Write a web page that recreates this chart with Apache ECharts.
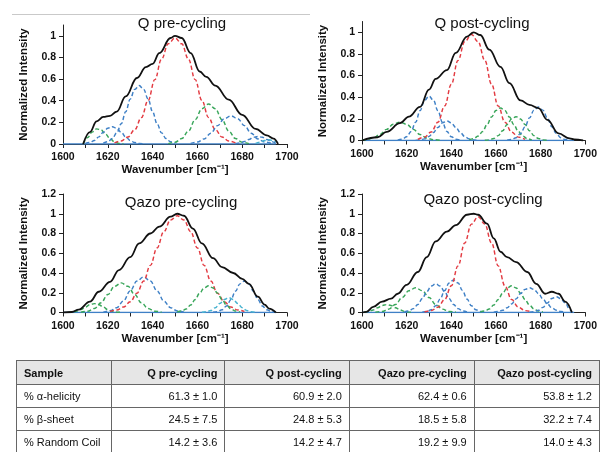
<!DOCTYPE html>
<html>
<head>
<meta charset="utf-8">
<script src="https://cdn.jsdelivr.net/npm/echarts@6/dist/echarts.min.js"></script>
<style>
  html, body { margin: 0; padding: 0; background: #fff; overflow: hidden; width: 600px; height: 452px; }
  #main { position: absolute; left: 0; top: 0; width: 600px; height: 452px; }
  table { position: absolute; left: 16px; top: 360px; border-collapse: collapse; table-layout: fixed;
          font-family: "Liberation Sans", Arial, sans-serif; font-size: 11px; color: #111; }
  td, th { border: 1px solid #666; padding: 0 7px; white-space: nowrap; height: 22px; }
  th { background: #e6e6e6; font-weight: bold; height: 23px; }
  td.num, th.num { text-align: right; }
  td.lab, th.lab { text-align: left; }
</style>
</head>
<body>
<div id="main"></div>
<table id="tbl"></table>
<script>
// FTIR amide I deconvolution

// Q pre-cycling
const qPreTotal = [[1609,0],[1612,0.11],[1615,0.21],[1618,0.25],[1621,0.26],[1624,0.30],[1628,0.44],[1633,0.61],[1637,0.71],[1640,0.74],[1643,0.84],[1648,0.98],[1650,1.0],[1653,0.98],[1657,0.84],[1661,0.67],[1664,0.62],[1668,0.54],[1674,0.41],[1680,0.27],[1686,0.14],[1691,0.08],[1694,0.05],[1696,0]];
const qPreG1 = [[1609,0],[1611,0.06],[1613,0.11],[1615,0.14],[1617,0.13],[1619,0.09],[1621,0.05],[1623,0.02],[1625,0.006],[1627,0]];
const qPreB1 = [[1610,0.005],[1612,0.014],[1614,0.033],[1616,0.066],[1618,0.108],[1620,0.145],[1622,0.16],[1624,0.145],[1626,0.108],[1628,0.066],[1630,0.033],[1632,0.014],[1634,0.005],[1636,0]];
const qPreB2 = [[1618,0.008],[1620,0.021],[1622,0.05],[1624,0.103],[1626,0.187],[1628,0.298],[1630,0.415],[1632,0.505],[1634,0.54],[1636,0.505],[1638,0.415],[1640,0.298],[1642,0.187],[1644,0.103],[1646,0.05],[1648,0.021],[1650,0.008]];
const qPreR = [[1623,0.011],[1626,0.028],[1629,0.065],[1632,0.132],[1635,0.244],[1638,0.403],[1641,0.595],[1644,0.785],[1647,0.927],[1650,0.98],[1653,0.927],[1656,0.785],[1659,0.595],[1662,0.403],[1665,0.244],[1668,0.132],[1671,0.065],[1674,0.028],[1677,0.011]];
const qPreG2 = [[1647,0.004],[1650,0.016],[1653,0.05],[1656,0.12],[1659,0.225],[1662,0.326],[1665,0.37],[1668,0.326],[1671,0.225],[1674,0.12],[1677,0.05],[1680,0.016],[1683,0.004]];
const qPreB3 = [[1657,0.006],[1660,0.018],[1663,0.047],[1666,0.1],[1669,0.17],[1672,0.234],[1675,0.26],[1678,0.234],[1681,0.17],[1684,0.1],[1687,0.047],[1690,0.018],[1693,0.006]];
const qPreB4 = [[1677,0.003],[1679,0.009],[1681,0.023],[1683,0.042],[1685,0.062],[1687,0.07],[1689,0.062],[1691,0.042],[1693,0.023],[1695,0.005]];
const qPreC1 = [[1686,0.005],[1688,0.016],[1690,0.032],[1692,0.04],[1694,0.03],[1695,0.02]];

// Q post-cycling
const qPostTotal = [[1600,0],[1607,0.03],[1611,0.08],[1617,0.16],[1621,0.22],[1626,0.31],[1630,0.47],[1633,0.57],[1638,0.65],[1642,0.81],[1647,0.96],[1650,1.0],[1653,0.975],[1657,0.84],[1662,0.68],[1666,0.53],[1671,0.37],[1675,0.33],[1679,0.3],[1683,0.19],[1688,0.065],[1693,0.02],[1695,0.01],[1699,0]];
const qPostG1 = [[1600,0.003],[1602,0.007],[1605,0.023],[1608,0.055],[1611,0.103],[1614,0.15],[1617,0.17],[1620,0.15],[1623,0.103],[1626,0.055],[1629,0.023],[1632,0.007],[1635,0.002]];
const qPostB1 = [[1616,0.003],[1618,0.012],[1620,0.035],[1622,0.084],[1624,0.169],[1626,0.276],[1628,0.371],[1630,0.41],[1632,0.371],[1634,0.276],[1636,0.169],[1638,0.084],[1640,0.035],[1642,0.012],[1644,0.003]];
const qPostB2 = [[1624,0.001],[1626,0.005],[1628,0.015],[1630,0.037],[1632,0.074],[1634,0.121],[1636,0.163],[1638,0.18],[1640,0.163],[1642,0.121],[1644,0.074],[1646,0.037],[1648,0.015],[1650,0.005],[1652,0.001]];
const qPostR = [[1625,0.011],[1628,0.031],[1631,0.078],[1634,0.169],[1637,0.318],[1640,0.52],[1643,0.74],[1646,0.913],[1649,0.98],[1652,0.913],[1655,0.74],[1658,0.52],[1661,0.318],[1664,0.169],[1667,0.078],[1670,0.031],[1673,0.011]];
const qPostG2 = [[1648,0.006],[1650,0.017],[1652,0.041],[1654,0.083],[1656,0.146],[1658,0.218],[1660,0.277],[1662,0.3],[1664,0.277],[1666,0.218],[1668,0.146],[1670,0.083],[1672,0.041],[1674,0.017],[1676,0.006]];
const qPostG3 = [[1655,0.002],[1657,0.006],[1659,0.019],[1661,0.045],[1663,0.09],[1665,0.148],[1667,0.199],[1669,0.22],[1671,0.199],[1673,0.148],[1675,0.09],[1677,0.045],[1679,0.019],[1681,0.006],[1683,0.002]];
const qPostB3 = [[1665,0.002],[1667,0.009],[1669,0.026],[1671,0.064],[1673,0.127],[1675,0.209],[1677,0.281],[1679,0.31],[1681,0.281],[1683,0.209],[1685,0.127],[1687,0.064],[1689,0.026],[1691,0.009],[1693,0.002]];

// Qazo pre-cycling
const qazoPreTotal = [[1600,0],[1604,0.005],[1607,0.03],[1612,0.11],[1616,0.21],[1621,0.31],[1625,0.43],[1630,0.56],[1634,0.7],[1639,0.8],[1643,0.87],[1648,0.97],[1651,1.0],[1654,0.98],[1658,0.85],[1662,0.7],[1667,0.55],[1671,0.46],[1676,0.4],[1680,0.34],[1683,0.29],[1687,0.16],[1690,0.08],[1692,0.04],[1695,0]];
const qazoPreG1 = [[1602,0.001],[1604,0.004],[1606,0.012],[1608,0.029],[1610,0.055],[1612,0.079],[1614,0.09],[1616,0.079],[1618,0.055],[1620,0.029],[1622,0.012],[1624,0.004],[1626,0.001]];
const qazoPreG2 = [[1608,0.003],[1611,0.013],[1614,0.041],[1617,0.098],[1620,0.182],[1623,0.265],[1626,0.3],[1629,0.265],[1632,0.182],[1635,0.098],[1638,0.041],[1641,0.013],[1644,0.003]];
const qazoPreB1 = [[1618,0.004],[1621,0.016],[1624,0.049],[1627,0.117],[1630,0.219],[1633,0.318],[1636,0.36],[1639,0.318],[1642,0.219],[1645,0.117],[1648,0.049],[1651,0.016],[1654,0.004]];
const qazoPreR = [[1621,0.011],[1624,0.025],[1627,0.055],[1630,0.108],[1633,0.194],[1636,0.318],[1639,0.477],[1642,0.654],[1645,0.818],[1648,0.937],[1651,0.98],[1654,0.937],[1657,0.818],[1660,0.654],[1663,0.477],[1666,0.318],[1669,0.194],[1672,0.108],[1675,0.055],[1678,0.025],[1681,0.011]];
const qazoPreG3 = [[1651,0.005],[1653,0.015],[1655,0.036],[1657,0.075],[1659,0.131],[1661,0.196],[1663,0.249],[1665,0.27],[1667,0.249],[1669,0.196],[1671,0.131],[1673,0.075],[1675,0.036],[1677,0.015],[1679,0.005]];
const qazoPreC1 = [[1662,0.002],[1664,0.007],[1666,0.02],[1668,0.049],[1670,0.091],[1672,0.132],[1674,0.15],[1676,0.132],[1678,0.091],[1680,0.049],[1682,0.02],[1684,0.007],[1686,0.002]];
const qazoPreB2 = [[1667,0.003],[1669,0.009],[1671,0.027],[1673,0.066],[1675,0.132],[1677,0.216],[1679,0.29],[1681,0.32],[1683,0.29],[1685,0.216],[1687,0.132],[1689,0.066],[1691,0.027],[1693,0.009],[1695,0.003]];

// Qazo post-cycling
const qazoPostTotal = [[1600,0],[1602,0.007],[1605,0.057],[1609,0.11],[1613,0.14],[1616,0.19],[1620,0.28],[1625,0.41],[1629,0.56],[1633,0.72],[1638,0.82],[1642,0.885],[1647,0.99],[1650,1.0],[1652,0.99],[1656,0.9],[1659,0.75],[1662,0.615],[1665,0.56],[1669,0.51],[1674,0.41],[1678,0.29],[1682,0.19],[1685,0.21],[1688,0.19],[1691,0.11],[1694,0]];
const qazoPostG1 = [[1601,0.003],[1603,0.011],[1605,0.026],[1607,0.049],[1609,0.071],[1611,0.08],[1613,0.071],[1615,0.049],[1617,0.026],[1619,0.011],[1621,0.004],[1623,0.001]];
const qazoPostG2 = [[1606,0.003],[1609,0.011],[1612,0.034],[1615,0.081],[1618,0.152],[1621,0.221],[1624,0.25],[1627,0.221],[1630,0.152],[1633,0.081],[1636,0.034],[1639,0.011],[1642,0.003]];
const qazoPostB1 = [[1619,0.006],[1621,0.016],[1623,0.039],[1625,0.081],[1627,0.141],[1629,0.211],[1631,0.268],[1633,0.29],[1635,0.268],[1637,0.211],[1639,0.141],[1641,0.081],[1643,0.039],[1645,0.016],[1647,0.006]];
const qazoPostB2 = [[1627,0.003],[1629,0.01],[1631,0.028],[1633,0.068],[1635,0.136],[1637,0.222],[1639,0.299],[1641,0.33],[1643,0.299],[1645,0.222],[1647,0.136],[1649,0.068],[1651,0.028],[1653,0.01],[1655,0.003]];
const qazoPostR = [[1628,0.006],[1631,0.019],[1634,0.054],[1637,0.131],[1640,0.27],[1643,0.472],[1646,0.704],[1649,0.895],[1652,0.97],[1655,0.895],[1658,0.704],[1661,0.472],[1664,0.27],[1667,0.131],[1670,0.054],[1673,0.019],[1676,0.006]];
const qazoPostG3 = [[1653,0.005],[1655,0.015],[1657,0.036],[1659,0.075],[1661,0.131],[1663,0.196],[1665,0.249],[1667,0.27],[1669,0.249],[1671,0.196],[1673,0.131],[1675,0.075],[1677,0.036],[1679,0.015],[1681,0.005]];
const qazoPostB3 = [[1659,0.004],[1661,0.01],[1663,0.023],[1665,0.048],[1667,0.087],[1669,0.138],[1671,0.192],[1673,0.234],[1675,0.25],[1677,0.234],[1679,0.192],[1681,0.138],[1683,0.087],[1685,0.048],[1687,0.023],[1689,0.01],[1691,0.004]];
const qazoPostB4 = [[1675,0.002],[1677,0.007],[1679,0.022],[1681,0.052],[1683,0.097],[1685,0.141],[1687,0.16],[1689,0.141],[1691,0.097],[1693,0.03],[1694,0]];

const baseline = [[1600,0],[1695,0]];

const panelTitles = ["Q pre-cycling", "Q post-cycling", "Qazo pre-cycling", "Qazo post-cycling"];

// table
const tableHeader = ["Sample", "Q pre-cycling", "Q post-cycling", "Qazo pre-cycling", "Qazo post-cycling"];
const rowHelix = ["% α-helicity", "61.3 ± 1.0", "60.9 ± 2.0", "62.4 ± 0.6", "53.8 ± 1.2"];
const rowSheet = ["% β-sheet", "24.5 ± 7.5", "24.8 ± 5.3", "18.5 ± 5.8", "32.2 ± 7.4"];
const rowCoil = ["% Random Coil", "14.2 ± 3.6", "14.2 ± 4.7", "19.2 ± 9.9", "14.0 ± 4.3"];
const colWidths = [95, 115, 126, 126, 126];

const RED = "#e33b42", GREEN = "#39a65a", BLUE = "#3f80c6", CYAN = "#49b3d0";

const panels = [
  { total: qPreTotal, parts: [[qPreG1, GREEN], [qPreB1, BLUE], [qPreB2, BLUE], [qPreR, RED], [qPreG2, GREEN], [qPreB3, BLUE], [qPreB4, BLUE], [qPreC1, CYAN]] },
  { total: qPostTotal, parts: [[qPostG1, GREEN], [qPostB1, BLUE], [qPostB2, BLUE], [qPostR, RED], [qPostG2, GREEN], [qPostG3, GREEN], [qPostB3, BLUE]] },
  { total: qazoPreTotal, parts: [[qazoPreG1, GREEN], [qazoPreG2, GREEN], [qazoPreB1, BLUE], [qazoPreR, RED], [qazoPreG3, GREEN], [qazoPreC1, CYAN], [qazoPreB2, BLUE]] },
  { total: qazoPostTotal, parts: [[qazoPostG1, GREEN], [qazoPostG2, GREEN], [qazoPostB1, BLUE], [qazoPostB2, BLUE], [qazoPostR, RED], [qazoPostG3, GREEN], [qazoPostB3, BLUE], [qazoPostB4, BLUE]] }
];

const grids = [
  { left: 63, top: 25, width: 224, height: 119 },
  { left: 362, top: 21.5, width: 224, height: 119 },
  { left: 63, top: 194, width: 224, height: 118.5 },
  { left: 362, top: 194, width: 224, height: 118.5 }
];
const yMax = [1.1, 1.1, 1.2, 1.2];
const titlePos = [[177, 11], [477, 11.5], [176, 190.5], [478, 187.5]];

const FONT = "Liberation Sans";
const axisTextStyle = { color: "#111", fontFamily: FONT, fontWeight: "bold" };

const chart = echarts.init(document.getElementById("main"), null, { renderer: "canvas" });

const xAxes = grids.map((g, i) => ({
  type: "value", gridIndex: i, min: 1600, max: 1700, interval: 10,
  name: "Wavenumber [cm⁻¹]", nameLocation: "middle", nameGap: i < 2 ? 20 : 19,
  nameTextStyle: Object.assign({ fontSize: 11.5 }, axisTextStyle),
  axisLine: { onZero: false, lineStyle: { color: "#222", width: 1 } },
  axisTick: { show: true, length: 4, lineStyle: { color: "#222" } },
  axisLabel: Object.assign({ fontSize: 10.5, margin: 8, formatter: v => (v % 20 === 0 ? String(v) : "") }, axisTextStyle),
  splitLine: { show: false }
}));

const yAxes = grids.map((g, i) => ({
  type: "value", gridIndex: i, min: 0, max: yMax[i], interval: 0.2,
  name: "Normalized Intensity", nameLocation: "middle", nameGap: 33, nameRotate: 90,
  nameTextStyle: Object.assign({ fontSize: 11.5 }, axisTextStyle),
  axisLine: { show: true, lineStyle: { color: "#222", width: 1 } },
  axisTick: { show: true, length: 4, lineStyle: { color: "#222" } },
  axisLabel: Object.assign({ fontSize: 10.5, margin: 7, showMaxLabel: i >= 2,
    formatter: v => String(Math.round(v * 10) / 10) }, axisTextStyle),
  splitLine: { show: false }
}));

const series = [];
panels.forEach((p, i) => {
  series.push({
    type: "line", xAxisIndex: i, yAxisIndex: i, data: baseline, symbol: "none", silent: true,
    lineStyle: { color: BLUE, width: 1.5 }
  });
  p.parts.forEach(([data, color]) => {
    series.push({
      type: "line", xAxisIndex: i, yAxisIndex: i, data: data, symbol: "none",
      smooth: 0.4, smoothMonotone: "x", silent: true,
      lineStyle: { color: color, width: 1.45, type: [4, 2.5] }
    });
  });
  series.push({
    type: "line", xAxisIndex: i, yAxisIndex: i, data: p.total, symbol: "none",
    smooth: 0.4, smoothMonotone: "x", silent: true,
    lineStyle: { color: "#111", width: 1.8 }
  });
});

chart.setOption({
  animation: false,
  backgroundColor: "#fff",
  title: panelTitles.map((t, i) => ({
    text: t, left: titlePos[i][0], top: titlePos[i][1], textAlign: "center",
    textStyle: { fontFamily: FONT, fontSize: 15, fontWeight: "normal", color: "#111" }
  })),
  grid: grids,
  xAxis: xAxes,
  yAxis: yAxes,
  series: series,
  graphic: [{
    type: "line", shape: { x1: 12, y1: 14.5, x2: 310, y2: 14.5 },
    style: { stroke: "#c9c9c9", lineWidth: 1 }, silent: true
  }]
});

// summary table under the plots
const tbl = document.getElementById("tbl");
const colgroup = document.createElement("colgroup");
colWidths.forEach(w => {
  const c = document.createElement("col");
  c.style.width = w + "px";
  colgroup.appendChild(c);
});
tbl.appendChild(colgroup);
[tableHeader, rowHelix, rowSheet, rowCoil].forEach((row, r) => {
  const tr = document.createElement("tr");
  row.forEach((txt, c) => {
    const cell = document.createElement(r === 0 ? "th" : "td");
    cell.textContent = txt;
    cell.className = c === 0 ? "lab" : "num";
    tr.appendChild(cell);
  });
  tbl.appendChild(tr);
});
</script>
</body>
</html>
